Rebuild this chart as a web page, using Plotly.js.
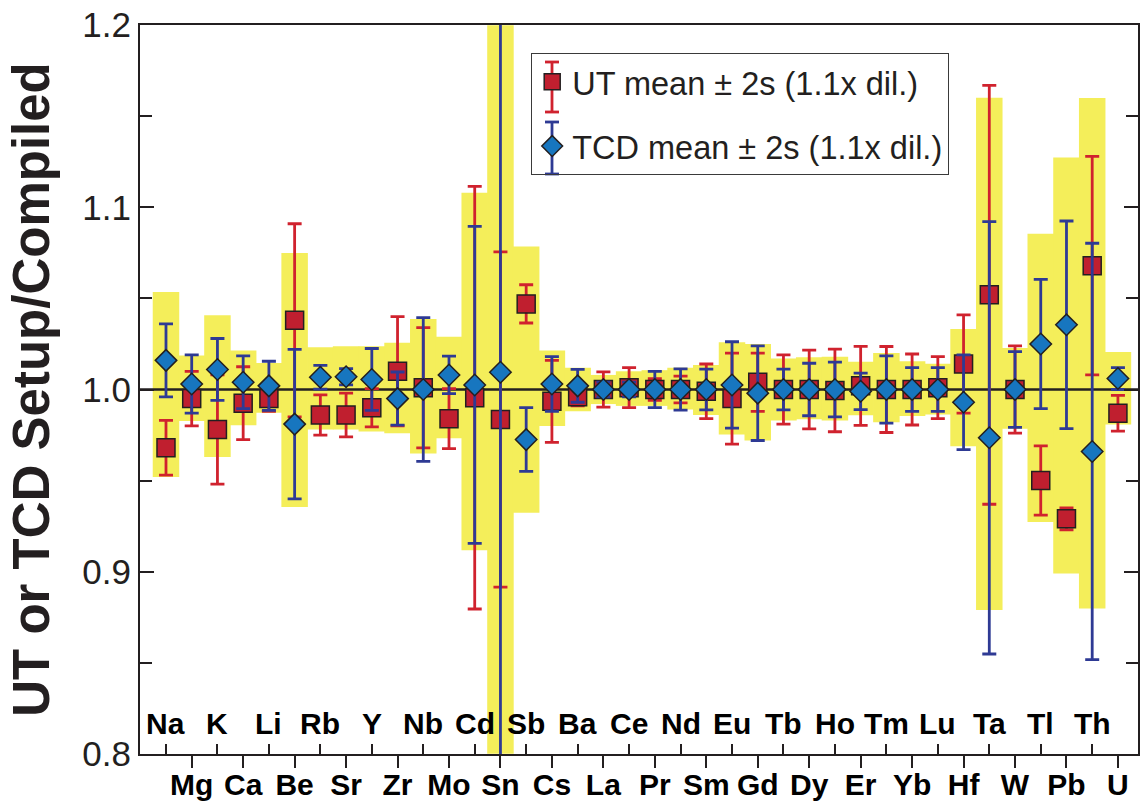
<!DOCTYPE html>
<html>
<head>
<meta charset="utf-8">
<script src="https://cdn.plot.ly/plotly-3.0.1.min.js"></script>
<style>html,body{margin:0;padding:0;background:#fff;}#chart{width:1148px;height:804px;}</style>
</head>
<body>
<div id="chart"></div>
<script>
// ---- data ----
const elements = ['Na','Mg','K','Ca','Li','Be','Rb','Sr','Y','Zr','Nb','Mo','Cd','Sn','Sb','Cs','Ba','La','Ce','Pr','Nd','Sm','Eu','Gd','Tb','Dy','Ho','Er','Tm','Yb','Lu','Hf','Ta','W','Tl','Pb','Th','U'];

const utMean = [0.968,0.995,0.978,0.9925,0.995,1.038,0.986,0.986,0.990,1.010,1.001,0.984,0.9955,0.9835,1.047,0.9935,0.996,1.000,1.001,1.000,1.000,0.999,0.995,1.004,1.000,1.000,0.9995,1.002,1.000,1.000,1.001,1.014,1.052,1.000,0.950,0.929,1.068,0.987];
const ut2s   = [0.015,0.015,0.030,0.020,0.007,0.053,0.011,0.012,0.0105,0.030,0.033,0.0165,0.116,0.092,0.0105,0.0225,0.005,0.0097,0.011,0.006,0.0073,0.015,0.025,0.016,0.019,0.0216,0.0227,0.0217,0.0236,0.0195,0.017,0.027,0.115,0.024,0.019,0.006,0.060,0.0098];

const tcdMean = [1.016,1.003,1.011,1.004,1.002,0.981,1.0067,1.007,1.0055,0.995,1.000,1.008,1.0025,1.0095,0.9725,1.003,1.002,1.000,1.000,1.000,1.000,1.000,1.0025,0.998,1.000,1.000,1.000,0.999,1.000,1.000,1.000,0.993,0.9735,1.000,1.025,1.0355,0.966,1.006];
const tcd2s   = [0.020,0.016,0.017,0.0145,0.0135,0.041,0.0065,0.0045,0.017,0.0146,0.0395,0.0103,0.087,0.25,0.0175,0.015,0.009,0.004,0.004,0.010,0.0113,0.0112,0.0237,0.026,0.0112,0.0144,0.015,0.010,0.0185,0.012,0.012,0.026,0.1187,0.0208,0.0355,0.057,0.1143,0.006];

const bandLow  = [0.952,0.9827,0.963,0.9804,0.9872,0.9355,0.978,0.978,0.977,0.976,0.9648,0.9732,0.9118,0.800,0.9324,0.980,0.988,0.992,0.991,0.991,0.989,0.986,0.9753,0.972,0.983,0.9836,0.983,0.9858,0.982,0.9854,0.9863,0.9689,0.879,0.9784,0.9273,0.899,0.8798,0.9808];
const bandHigh = [1.0535,1.0186,1.0407,1.0214,1.0146,1.0749,1.0232,1.0237,1.0237,1.0256,1.0387,1.0289,1.108,1.200,1.0785,1.0214,1.0119,1.008,1.010,1.0106,1.012,1.0135,1.026,1.025,1.017,1.0177,1.018,1.0153,1.020,1.0155,1.0142,1.0332,1.1602,1.0228,1.0855,1.1274,1.160,1.0206];

const yTicks = [0.8, 0.9, 1.0, 1.1, 1.2];
const refValue = 1.0;

// ---- derived ----
const idx = elements.map((_, i) => i);
const evenIdx = idx.filter(i => i % 2 === 0);
const oddIdx = idx.filter(i => i % 2 === 1);
const xRange = [-1.01, 37.78];
const yRange = [0.7999, 1.2001];
const FONT = '"Liberation Sans", Arial, Helvetica, sans-serif';
const RED_BAR = '#d0222e', BLUE_BAR = '#2e3a94';
const LABEL_FONT = {family: FONT, size: 30, color: '#000', weight: 'bold'};

const bands = {
  type: 'bar', x: idx, base: bandLow,
  y: bandHigh.map((h, i) => h - bandLow[i]),
  width: 1.03,
  marker: {color: '#f4ee5a', line: {width: 0}},
  showlegend: false, hoverinfo: 'skip'
};

const refLine = {
  type: 'scatter', mode: 'lines', x: xRange, y: [refValue, refValue],
  line: {color: '#231f20', width: 2.5}, showlegend: false, hoverinfo: 'skip'
};

const ut = {
  type: 'scatter', mode: 'markers', name: 'UT mean ± 2s (1.1x dil.)',
  x: idx, y: utMean, legendgroup: 'a',
  error_y: {type: 'data', array: ut2s, visible: true, color: RED_BAR, thickness: 2.8, width: 7},
  marker: {symbol: 'square', size: 18, color: '#c01f2f', line: {color: '#231f20', width: 1.5}}
};

const tcd = {
  type: 'scatter', mode: 'markers', name: 'TCD mean ± 2s (1.1x dil.)',
  x: idx, y: tcdMean, legendgroup: 'b',
  error_y: {type: 'data', array: tcd2s, visible: true, color: BLUE_BAR, thickness: 2.8, width: 7},
  marker: {symbol: 'diamond', size: 16.5, color: '#1776bf', line: {color: '#231f20', width: 1.5}}
};

// empty trace so that the overlaying axis (inside tick marks) is drawn
const axisHolder = {type: 'scatter', mode: 'markers', x: [], y: [], xaxis: 'x2', yaxis: 'y', showlegend: false, hoverinfo: 'skip'};

// legend glyph error bars (paper coordinates derived from pixel layout)
const plotL = 140, plotW = 998, plotB = 754, plotH = 729;
const px = v => (v - plotL) / plotW;
const py = v => (plotB - v) / plotH;
function glyph(cx, y0, y1, color) {
  const hw = 7;
  const base = {type: 'line', xref: 'paper', yref: 'paper', layer: 'above', line: {color: color, width: 2.8}};
  return [
    Object.assign({}, base, {x0: px(cx), x1: px(cx), y0: py(y0), y1: py(y1)}),
    Object.assign({}, base, {x0: px(cx - hw), x1: px(cx + hw), y0: py(y0), y1: py(y0)}),
    Object.assign({}, base, {x0: px(cx - hw), x1: px(cx + hw), y0: py(y1), y1: py(y1)})
  ];
}

// upper row of element labels (inside the plot, above the inward ticks)
const innerLabels = evenIdx.map(i => ({
  x: i, xref: 'x', y: 0, yref: 'paper', yanchor: 'middle', yshift: 31,
  text: elements[i], showarrow: false, font: LABEL_FONT
}));

const layout = {
  width: 1148, height: 804,
  margin: {l: 140, r: 10, t: 25, b: 50},
  paper_bgcolor: '#ffffff', plot_bgcolor: '#ffffff',
  font: {family: FONT, color: '#231f20'},
  showlegend: true,
  legend: {
    x: px(531), y: py(53), xanchor: 'left', yanchor: 'top',
    bgcolor: 'rgba(255,255,255,0)', bordercolor: '#3a3a3a', borderwidth: 1.2,
    font: {family: FONT, size: 32.5, color: '#231f20'},
    traceorder: 'grouped', tracegroupgap: 19
  },
  annotations: innerLabels,
  shapes: [],
  xaxis: {
    range: xRange, autorange: false,
    tickmode: 'array', tickvals: oddIdx, ticktext: oddIdx.map(i => elements[i]),
    ticks: 'outside', ticklen: 12, tickwidth: 2, tickcolor: '#231f20',
    ticklabelstandoff: -9,
    tickfont: LABEL_FONT,
    showline: true, linecolor: '#231f20', linewidth: 2, mirror: true,
    showgrid: false, zeroline: false, fixedrange: true
  },
  xaxis2: {
    overlaying: 'x', anchor: 'y', side: 'bottom',
    range: xRange, autorange: false,
    tickmode: 'array', tickvals: evenIdx,
    ticks: 'inside', ticklen: 10, tickwidth: 2, tickcolor: '#231f20',
    showticklabels: false,
    showline: false, showgrid: false, zeroline: false, fixedrange: true
  },
  yaxis: {
    range: yRange, autorange: false,
    tickmode: 'array', tickvals: yTicks, tickformat: '.1f',
    ticks: 'inside', ticklen: 14, tickwidth: 2, tickcolor: '#231f20',
    minor: {dtick: 0.05, tick0: 0.8, ticks: 'inside', ticklen: 12, tickwidth: 2, tickcolor: '#231f20'},
    tickfont: {family: FONT, size: 35, color: '#231f20'},
    showline: true, linecolor: '#231f20', linewidth: 2, mirror: 'ticks',
    showgrid: false, zeroline: false, fixedrange: true,
    title: {text: 'UT or TCD Setup/Compiled', standoff: 16,
            font: {family: FONT, size: 51, color: '#231f20', weight: 'bold'}}
  },
  barmode: 'overlay'
};
layout.shapes = glyph(552, 62, 112, RED_BAR).concat(glyph(552, 122, 174, BLUE_BAR));

Plotly.newPlot('chart', [bands, refLine, ut, tcd, axisHolder], layout, {displayModeBar: false, staticPlot: true});
</script>
</body>
</html>
